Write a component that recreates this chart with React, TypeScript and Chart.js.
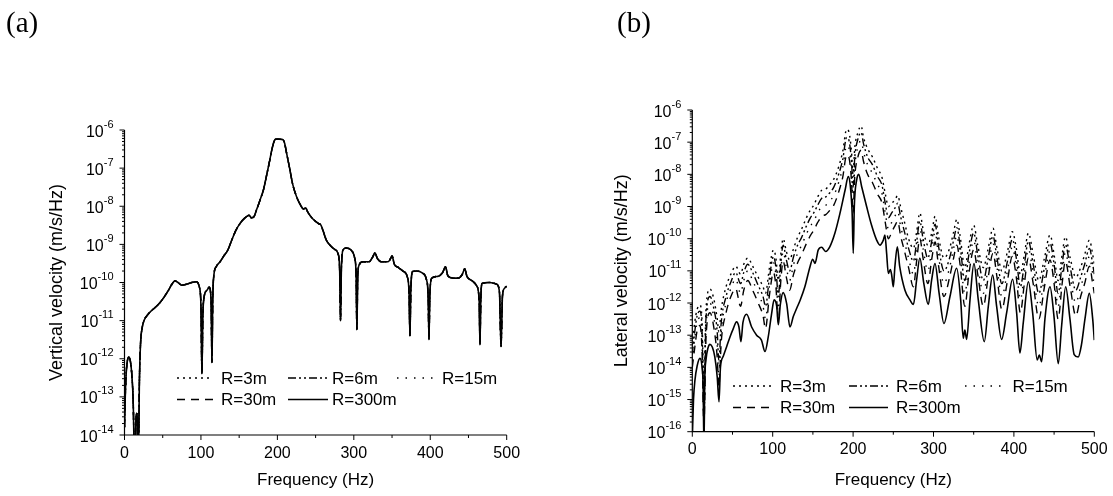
import React, { useEffect, useRef } from 'react';
import { Chart, registerables } from 'chart.js';

Chart.register(...registerables);

// ---------- shared series definitions ----------
const seriesLabels = ['R=3m', 'R=6m', 'R=15m', 'R=30m', 'R=300m'];
const seriesDashes: number[][] = [[2, 4], [8, 3, 2, 3, 2, 3], [1.5, 7], [8, 6], []];

const xMajorTicks = [0, 100, 200, 300, 400, 500];
const xMinorTicks = [50, 150, 250, 350, 450];
const yTicksA = [1e-6, 1e-7, 1e-8, 1e-9, 1e-10, 1e-11, 1e-12, 1e-13, 1e-14];
const yTicksB = [1e-6, 1e-7, 1e-8, 1e-9, 1e-10, 1e-11, 1e-12, 1e-13, 1e-14, 1e-15, 1e-16];

// ---------- (a) vertical velocity: all five curves coincide ----------
const freqA = [
  0, 1, 2, 3.5, 5.5, 7.5, 9.5, 11.5, 12.5, 13.5,
  15, 16, 17, 18, 19.5, 21, 23, 26, 30, 35,
  40, 46, 52, 57, 62, 66, 70, 75, 81, 88,
  94, 98, 100, 101.3, 102.5, 104, 108, 111, 113.3, 114.4,
  115.5, 117, 120, 125, 130, 135, 140, 146, 151, 155,
  160, 163, 166, 169, 173, 177, 182, 186, 190, 193,
  196, 198, 202, 207, 209.5, 212, 216, 220, 225, 230,
  234, 237, 240, 245, 250, 254, 257, 260, 264, 270,
  275, 279.5, 281.5, 282.6, 283.8, 286, 290, 296, 301, 303,
  304, 305.2, 307, 312, 320, 325, 327.5, 331, 336, 345,
  348, 350, 353, 358, 365, 370, 372.3, 373.4, 374.6, 377,
  382, 390, 395, 397.3, 398.3, 399.5, 402, 410, 416, 420,
  423, 430, 437, 442, 445, 448, 455, 461, 464, 465,
  466.2, 468, 478, 487, 490.5, 492.6, 494.5, 497, 500,
];
const verticalVel = [
  1.6e-14, 1e-13, 3.5e-13, 8e-13, 1.1e-12, 9e-13, 4e-13, 6e-14, 5e-15, 1e-15,
  2.5e-14, 3.7e-14, 2.5e-14, 1e-15, 2.5e-13, 2.5e-12, 6.3e-12, 1.05e-11, 1.4e-11, 1.8e-11,
  2.2e-11, 2.9e-11, 4.2e-11, 6e-11, 9e-11, 1.1e-10, 1e-10, 8.5e-11, 9e-11, 1e-10,
  1.05e-10, 7.5e-11, 2.5e-11, 4e-13, 1.3e-11, 4e-11, 6.3e-11, 7.5e-11, 3.2e-11, 8e-13,
  4e-11, 1.6e-10, 2.6e-10, 3.5e-10, 5e-10, 7e-10, 1.25e-9, 2.4e-9, 3.5e-9, 4.4e-9,
  5.4e-9, 5.8e-9, 5e-9, 5.2e-9, 8.3e-9, 1.4e-8, 2.8e-8, 6.6e-8, 1.6e-7, 3.2e-7,
  5.2e-7, 5.75e-7, 5.75e-7, 5.6e-7, 4.5e-7, 2.5e-7, 1e-7, 3.8e-8, 1.8e-8, 1.1e-8,
  8.5e-9, 9e-9, 6.9e-9, 5e-9, 4e-9, 3.5e-9, 3.2e-9, 2.2e-9, 1.3e-9, 9e-10,
  7.4e-10, 5.6e-10, 2e-10, 1e-11, 2.5e-10, 7.2e-10, 8e-10, 7.2e-10, 4.5e-10, 1.6e-10,
  5.8e-12, 1.6e-10, 2.9e-10, 3.5e-10, 3.5e-10, 4.8e-10, 6e-10, 4.2e-10, 3.5e-10, 3.5e-10,
  4.2e-10, 5e-10, 3e-10, 2.5e-10, 1.95e-10, 1.4e-10, 5e-11, 3.9e-12, 6.3e-11, 1.95e-10,
  2e-10, 1.75e-10, 1.2e-10, 4e-11, 3.2e-12, 5e-11, 1.3e-10, 1.45e-10, 1.8e-10, 2.6e-10,
  1.5e-10, 1.3e-10, 1.3e-10, 1.65e-10, 2.3e-10, 1.45e-10, 1.1e-10, 8e-11, 3.2e-11, 2.3e-12,
  4e-11, 9.5e-11, 1e-10, 9e-11, 5.6e-11, 2.1e-12, 4.5e-11, 7e-11, 8e-11,
];

// ---------- (b) lateral velocity ----------
const latFreqUpper = [
  0, 3, 6, 9.5, 12, 14.5, 17, 22, 27, 31,
  33, 36, 42, 48, 54, 60, 64, 69, 75, 82,
  88, 91, 96, 101, 104, 107, 110, 113, 117, 121,
  126, 131, 136, 142, 147, 151, 156, 161, 166, 170,
  176, 182, 187, 192, 195, 198, 200, 202, 206, 210,
  213, 218, 224, 230, 236, 240, 244, 248, 252, 255.5,
  259, 264, 269, 275, 279, 283, 287, 293, 298, 302,
  306, 313, 320, 325, 329, 333, 339, 344, 350, 355,
  362, 368, 374, 379, 385, 392, 398, 403, 408, 413,
  418, 424, 431, 438, 445, 450, 455, 460, 464, 470,
  477, 483, 488, 494, 498, 500,
];
const latR3 = [
  5e-14, 2.5e-13, 6.3e-13, 8.7e-13, 3.2e-13, 3.2e-15, 6.3e-13, 2.75e-12, 1.26e-12, 3.2e-13,
  1.26e-13, 6.3e-13, 3.2e-12, 7.9e-12, 1.4e-11, 7.9e-12, 1.6e-11, 2.5e-11, 1.4e-11, 6.3e-12,
  3.2e-12, 2e-12, 1.26e-11, 4.5e-11, 2.5e-11, 5e-12, 3.2e-11, 1e-10, 4e-11, 2.2e-11,
  5e-11, 1.1e-10, 2e-10, 4.5e-10, 7.9e-10, 1.1e-9, 2e-9, 3.2e-9, 3.5e-9, 4.5e-9,
  7.1e-9, 1.7e-8, 5e-8, 2.5e-7, 2e-7, 5e-8, 1e-8, 6.3e-8, 2e-7, 3.2e-7,
  1.4e-7, 6.3e-8, 3.5e-8, 1.6e-8, 7.9e-9, 2.5e-9, 1e-9, 1.26e-9, 1.6e-9, 2.2e-9,
  1e-9, 3.2e-10, 1e-10, 5e-11, 1.6e-10, 6.3e-10, 2e-10, 6.3e-11, 1.6e-10, 5e-10,
  1.26e-10, 2.5e-11, 5e-11, 1.6e-10, 4e-10, 1.26e-10, 1.26e-11, 6.3e-11, 2.6e-10, 6.3e-11,
  1.26e-11, 5e-11, 2.1e-10, 5e-11, 1e-11, 4e-11, 1.66e-10, 5e-11, 7.9e-12, 3.2e-11,
  1.5e-10, 3.2e-11, 5e-12, 2.5e-11, 1.3e-10, 3.2e-11, 5e-12, 3.2e-11, 1.15e-10, 2.5e-11,
  6.3e-12, 1.26e-11, 3.2e-11, 9e-11, 3.2e-11, 1.6e-11,
];
const latR6 = [
  2.5e-14, 1.26e-13, 4e-13, 5.6e-13, 1.6e-13, 5e-16, 3.2e-13, 1.6e-12, 6.3e-13, 1.26e-13,
  1.6e-14, 2.5e-13, 1.6e-12, 4.5e-12, 8.9e-12, 4e-12, 8.9e-12, 1.6e-11, 8.9e-12, 3.5e-12,
  1.6e-12, 7.9e-13, 6.3e-12, 2.8e-11, 1.26e-11, 1.6e-12, 1.6e-11, 6.3e-11, 2.2e-11, 1e-11,
  2.8e-11, 6.3e-11, 1.1e-10, 2.5e-10, 4.5e-10, 6.3e-10, 1.1e-9, 1.8e-9, 2e-9, 2.5e-9,
  4e-9, 1e-8, 2.8e-8, 1.4e-7, 1.1e-7, 2.5e-8, 4e-9, 3.2e-8, 1.26e-7, 2e-7,
  8.9e-8, 3.5e-8, 2e-8, 8.9e-9, 4.5e-9, 1.26e-9, 4.5e-10, 6.3e-10, 8.9e-10, 1.26e-9,
  5e-10, 1.6e-10, 5e-11, 2e-11, 7.9e-11, 3.5e-10, 1e-10, 2.5e-11, 8.9e-11, 2.8e-10,
  6.3e-11, 1e-11, 2.5e-11, 8.9e-11, 2.2e-10, 6.3e-11, 5e-12, 3.2e-11, 1.5e-10, 3.2e-11,
  5e-12, 2.5e-11, 1.2e-10, 2.5e-11, 4e-12, 2e-11, 9.5e-11, 2.5e-11, 3.2e-12, 1.6e-11,
  8.3e-11, 1.6e-11, 2e-12, 1.26e-11, 7.2e-11, 1.6e-11, 2e-12, 1.6e-11, 6.6e-11, 1.26e-11,
  2.5e-12, 6.3e-12, 1.6e-11, 5e-11, 1.6e-11, 7.9e-12,
];
const latR15 = [
  1.6e-14, 7.9e-14, 2.5e-13, 3.5e-13, 7.9e-14, 2.5e-16, 1.6e-13, 1e-12, 3.2e-13, 5e-14,
  5e-15, 1.26e-13, 1e-12, 2.8e-12, 5.6e-12, 2e-12, 5e-12, 1e-11, 5e-12, 2e-12,
  7.9e-13, 3.2e-13, 3.5e-12, 1.8e-11, 7.1e-12, 6.3e-13, 8.9e-12, 4e-11, 1.26e-11, 5e-12,
  1.6e-11, 3.5e-11, 6.3e-11, 1.4e-10, 2.5e-10, 3.5e-10, 6.3e-10, 1e-9, 1.1e-9, 1.4e-9,
  2.2e-9, 5.6e-9, 1.6e-8, 7.9e-8, 6.3e-8, 1.26e-8, 1.6e-9, 1.6e-8, 7.1e-8, 1.1e-7,
  5e-8, 2e-8, 1.1e-8, 5e-9, 2.5e-9, 6.3e-10, 2e-10, 3.2e-10, 5e-10, 7.1e-10,
  2.5e-10, 7.9e-11, 2.5e-11, 7.9e-12, 4e-11, 2e-10, 5e-11, 1e-11, 5e-11, 1.6e-10,
  3.2e-11, 4e-12, 1.26e-11, 5e-11, 1.26e-10, 3.2e-11, 2e-12, 1.6e-11, 8.7e-11, 1.6e-11,
  2e-12, 1.26e-11, 6.9e-11, 1.26e-11, 1.6e-12, 1e-11, 5.5e-11, 1.26e-11, 1.26e-12, 7.9e-12,
  4.8e-11, 7.9e-12, 7.9e-13, 6.3e-12, 4.2e-11, 7.9e-12, 7.9e-13, 7.9e-12, 3.8e-11, 6.3e-12,
  1e-12, 3.2e-12, 7.9e-12, 2.8e-11, 7.9e-12, 4e-12,
];
const latR30 = [
  1e-14, 4e-14, 1.4e-13, 2e-13, 4e-14, 1.6e-16, 7.9e-14, 5e-13, 1.6e-13, 2e-14,
  2.5e-15, 6.3e-14, 5e-13, 1.6e-12, 2.8e-12, 7.9e-13, 2.5e-12, 5e-12, 2.5e-12, 1e-12,
  4e-13, 1.6e-13, 1.8e-12, 8.9e-12, 3.2e-12, 2.5e-13, 4.5e-12, 2e-11, 6.3e-12, 2.5e-12,
  7.9e-12, 1.8e-11, 3.2e-11, 7.1e-11, 1.26e-10, 1.8e-10, 3.2e-10, 5e-10, 5.6e-10, 7.1e-10,
  1.1e-9, 2.8e-9, 7.9e-9, 4e-8, 3.2e-8, 6.3e-9, 6.3e-10, 7.9e-9, 3.5e-8, 5.6e-8,
  2.5e-8, 1e-8, 5.6e-9, 2.5e-9, 1.26e-9, 3.2e-10, 1e-10, 1.6e-10, 2.5e-10, 3.5e-10,
  1.26e-10, 4e-11, 1.26e-11, 3.2e-12, 2e-11, 1e-10, 2.5e-11, 4e-12, 2.5e-11, 7.9e-11,
  1.6e-11, 1.6e-12, 6.3e-12, 2.5e-11, 6.3e-11, 1.6e-11, 7.9e-13, 7.9e-12, 4.5e-11, 7.9e-12,
  7.9e-13, 6.3e-12, 3.5e-11, 6.3e-12, 6.3e-13, 5e-12, 2.8e-11, 6.3e-12, 5e-13, 4e-12,
  2.5e-11, 4e-12, 3.2e-13, 3.2e-12, 2.2e-11, 4e-12, 3.2e-13, 4e-12, 2e-11, 3.2e-12,
  4e-13, 1.6e-12, 4e-12, 1.4e-11, 4e-12, 2e-12,
];
const latFreq300 = [
  0, 1.5, 3.3, 6, 9.5, 12, 13.5, 14.5, 15.5, 17,
  19.5, 22, 25, 28, 31, 33.2, 35, 38.5, 42.7, 47,
  51, 55, 58, 60.5, 63, 67.6, 73.8, 80, 86, 90.4,
  94.5, 98.7, 101.8, 105, 107, 109.5, 113, 117.3, 121.5, 125.6,
  130, 134, 140, 146.4, 149.7, 152.6, 156.7, 160.9, 165.8, 171,
  177.4, 183.7, 190, 194, 196.5, 198.8, 200.2, 201.5, 204.4, 207,
  210.6, 216.8, 223, 229.3, 233.4, 237.6, 239.6, 241.7, 243.8, 246.3,
  248, 250, 252, 255, 258, 264.5, 270.7, 275, 279, 283,
  288, 293.5, 297.7, 301.8, 307, 313, 320.5, 328.8, 333.8, 337,
  339, 341.2, 345.4, 350.3, 355.7, 363.2, 368.2, 373.6, 378.5, 384.7,
  391, 398.4, 403.4, 407.5, 411.7, 418, 423.3, 429, 431.6, 434.5,
  438.6, 444.9, 449.8, 455.2, 459.4, 464.4, 469.7, 475, 480, 484,
  488.4, 493.8, 498, 500,
];
const latR300 = [
  6e-17, 1e-15, 4e-15, 1.1e-14, 1.9e-14, 1.1e-14, 2.5e-15, 3e-17, 4e-15, 1.7e-14,
  4e-14, 5.2e-14, 4.2e-14, 2.1e-14, 5e-15, 8.5e-16, 1e-14, 2.2e-14, 4.4e-14, 9e-14,
  1.6e-13, 2.6e-13, 1.8e-13, 6.3e-14, 2.5e-13, 4.5e-13, 1.8e-13, 1e-13, 7e-14, 3.1e-14,
  9e-14, 4.8e-13, 1.25e-12, 7.8e-13, 2.1e-13, 9e-13, 2.1e-12, 9.8e-13, 1.8e-13, 3.8e-13,
  7e-13, 1.2e-12, 3.2e-12, 1.35e-11, 2.3e-11, 1.7e-11, 4.5e-11, 5.4e-11, 4e-11, 5.6e-11,
  1.5e-10, 6.2e-10, 3.2e-9, 8.5e-9, 4.5e-9, 6.3e-10, 3.5e-11, 1e-9, 6.6e-9, 1e-8,
  4.2e-9, 1e-9, 2.6e-10, 9e-11, 6.3e-11, 9e-11, 1.3e-10, 3.5e-11, 8.3e-12, 1.1e-11,
  7.4e-12, 3.2e-12, 1.35e-11, 5.6e-11, 1.35e-11, 2.5e-12, 1.25e-12, 9e-13, 5.2e-12, 2.5e-11,
  4e-12, 9e-13, 5.2e-12, 1.7e-11, 2e-12, 2.3e-13, 1.6e-12, 1.2e-11, 1.25e-12, 8e-14,
  1.45e-13, 7.4e-14, 1.25e-12, 1.7e-11, 1.25e-12, 6.3e-14, 8e-13, 7.4e-12, 8e-13, 7.4e-14,
  5e-13, 5.5e-12, 5e-13, 2.8e-14, 2.5e-13, 4.6e-12, 5e-13, 1.7e-14, 2.4e-14, 1.5e-14,
  3.2e-13, 3.2e-12, 4e-13, 1.3e-14, 2e-13, 3.2e-12, 3.2e-13, 2.5e-14, 2.1e-14, 5e-14,
  3.2e-13, 2e-12, 3.2e-13, 7e-14,
];

// ---------- helpers ----------
const SANS = '"Liberation Sans", Arial, sans-serif';
const SERIF = '"Liberation Serif", "Times New Roman", serif';

function toPoints(freq: number[], vals: number[]) {
  const pts: { x: number; y: number }[] = [];
  for (let i = 0; i < freq.length && i < vals.length; i++) pts.push({ x: freq[i], y: vals[i] });
  return pts;
}

function makeDatasets(pairs: [number[], number[]][]) {
  return pairs.map(([f, v], i) => ({
    label: seriesLabels[i],
    data: toPoints(f, v),
    borderColor: '#000',
    borderWidth: i === 4 ? 1.6 : 1.4,
    borderDash: seriesDashes[i],
    pointRadius: 0,
    fill: false,
    cubicInterpolationMode: 'monotone' as const,
    order: i === 4 ? 0 : i + 1,
  }));
}

type PanelCfg = {
  id: string;
  panelLabel: string;
  panelX: number;
  yTitle: string;
  yTitleX: number;
  yTicks: number[];
  legendCols: { lx0: number; lx1: number; tx: number }[];
  legendRows: number[];
};

function axesPlugin(cfg: PanelCfg) {
  return {
    id: 'axes_' + cfg.id,
    afterDraw(chart: any) {
      const ctx: CanvasRenderingContext2D = chart.ctx;
      const { left, right, top, bottom } = chart.chartArea;
      const xs = chart.scales.x;
      const ys = chart.scales.y;
      ctx.save();
      ctx.setLineDash([]);
      ctx.strokeStyle = '#000';
      ctx.fillStyle = '#000';
      ctx.lineWidth = 1.2;
      // axis lines
      ctx.beginPath();
      ctx.moveTo(left, top);
      ctx.lineTo(left, bottom);
      ctx.lineTo(right, bottom);
      ctx.stroke();
      // x ticks
      ctx.lineWidth = 1;
      ctx.beginPath();
      xMajorTicks.forEach((v) => {
        const x = xs.getPixelForValue(v);
        ctx.moveTo(x, bottom);
        ctx.lineTo(x, bottom + 5);
      });
      xMinorTicks.forEach((v) => {
        const x = xs.getPixelForValue(v);
        ctx.moveTo(x, bottom);
        ctx.lineTo(x, bottom + 3);
      });
      // y ticks (major decades + log minors)
      cfg.yTicks.forEach((v) => {
        const y = ys.getPixelForValue(v);
        ctx.moveTo(left, y);
        ctx.lineTo(left - 5, y);
      });
      for (let k = 1; k < cfg.yTicks.length; k++) {
        const d = cfg.yTicks[k];
        for (let m = 2; m <= 9; m++) {
          const y = ys.getPixelForValue(d * m);
          ctx.moveTo(left, y);
          ctx.lineTo(left - 2.5, y);
        }
      }
      ctx.stroke();

      // x tick labels
      ctx.font = '16px ' + SANS;
      ctx.textAlign = 'center';
      ctx.textBaseline = 'alphabetic';
      xMajorTicks.forEach((v) => {
        ctx.fillText(String(v), xs.getPixelForValue(v), bottom + 22.5);
      });
      // y tick labels 10^n
      ctx.textAlign = 'left';
      cfg.yTicks.forEach((v) => {
        const y = ys.getPixelForValue(v);
        const exp = String(Math.round(Math.log10(v)));
        ctx.font = '11px ' + SANS;
        const ws = ctx.measureText(exp).width;
        ctx.font = '16px ' + SANS;
        const wb = ctx.measureText('10').width;
        const rightEdge = left - 11;
        ctx.fillText('10', rightEdge - ws - wb, y + 6.5);
        ctx.font = '11px ' + SANS;
        ctx.fillText(exp, rightEdge - ws, y - 2.5);
      });
      // axis titles
      ctx.font = '17px ' + SANS;
      ctx.textAlign = 'center';
      ctx.fillText('Frequency (Hz)', (left + right) / 2, 485);
      ctx.save();
      ctx.font = '18px ' + SANS;
      ctx.translate(cfg.yTitleX, (top + bottom) / 2);
      ctx.rotate(-Math.PI / 2);
      ctx.textBaseline = 'middle';
      ctx.fillText(cfg.yTitle, 0, 0);
      ctx.restore();

      // legend
      ctx.font = '17px ' + SANS;
      ctx.textAlign = 'left';
      ctx.textBaseline = 'alphabetic';
      const ds = chart.data.datasets;
      ds.forEach((d: any, i: number) => {
        const row = i < 3 ? 0 : 1;
        const col = i < 3 ? i : i - 3;
        const c = cfg.legendCols[col];
        const ly = cfg.legendRows[row];
        ctx.lineWidth = d.borderWidth;
        ctx.setLineDash(d.borderDash || []);
        ctx.beginPath();
        ctx.moveTo(c.lx0, ly);
        ctx.lineTo(c.lx1, ly);
        ctx.stroke();
        ctx.setLineDash([]);
        ctx.fillText(d.label, c.tx, ly + 5.8);
      });

      // panel label
      ctx.font = '29px ' + SERIF;
      ctx.fillText(cfg.panelLabel, cfg.panelX, 32);
      ctx.restore();
    },
  };
}

type PanelProps = {
  cfg: PanelCfg;
  datasets: any[];
  yMin: number;
  yMax: number;
  left: number;
  width: number;
  padding: { left: number; right: number; top: number; bottom: number };
};

function Panel({ cfg, datasets, yMin, yMax, left, width, padding }: PanelProps) {
  const ref = useRef<HTMLCanvasElement>(null);
  useEffect(() => {
    if (!ref.current) return;
    const chart = new Chart(ref.current, {
      type: 'line',
      data: { datasets },
      options: {
        responsive: false,
        animation: false,
        devicePixelRatio: 1,
        events: [],
        layout: { padding },
        plugins: { legend: { display: false }, tooltip: { enabled: false } },
        scales: {
          x: { type: 'linear', min: 0, max: 500, display: false },
          y: { type: 'logarithmic', min: yMin, max: yMax, display: false },
        },
      } as any,
      plugins: [axesPlugin(cfg)],
    });
    return () => chart.destroy();
  }, []);
  return (
    <canvas
      ref={ref}
      width={width}
      height={496}
      style={{ position: 'absolute', left, top: 0, width, height: 496 }}
    />
  );
}

const cfgA: PanelCfg = {
  id: 'a',
  panelLabel: '(a)',
  panelX: 6,
  yTitle: 'Vertical velocity (m/s/Hz)',
  yTitleX: 57,
  yTicks: yTicksA,
  legendCols: [
    { lx0: 177, lx1: 213, tx: 221 },
    { lx0: 288, lx1: 328, tx: 332 },
    { lx0: 397, lx1: 435, tx: 442 },
  ],
  legendRows: [378, 399.5],
};

const cfgB: PanelCfg = {
  id: 'b',
  panelLabel: '(b)',
  panelX: 61,
  yTitle: 'Lateral velocity (m/s/Hz)',
  yTitleX: 66.5,
  yTicks: yTicksB,
  legendCols: [
    { lx0: 177, lx1: 215.5, tx: 224 },
    { lx0: 293, lx1: 332, tx: 340 },
    { lx0: 409, lx1: 449, tx: 456.5 },
  ],
  legendRows: [386, 407.5],
};

export default function App() {
  const dsA = makeDatasets([
    [freqA, verticalVel],
    [freqA, verticalVel],
    [freqA, verticalVel],
    [freqA, verticalVel],
    [freqA, verticalVel],
  ]);
  const dsB = makeDatasets([
    [latFreqUpper, latR3],
    [latFreqUpper, latR6],
    [latFreqUpper, latR15],
    [latFreqUpper, latR30],
    [latFreq300, latR300],
  ]);
  return (
    <div style={{ position: 'absolute', left: 0, top: 0, width: 1113, height: 496, background: '#fff', overflow: 'hidden' }}>
      <Panel
        cfg={cfgA}
        datasets={dsA}
        yMin={1e-14}
        yMax={1e-6}
        left={0}
        width={556}
        padding={{ left: 124.5, right: 49.3, top: 130, bottom: 61 }}
      />
      <Panel
        cfg={cfgB}
        datasets={dsB}
        yMin={1e-16}
        yMax={1e-6}
        left={556}
        width={557}
        padding={{ left: 136.3, right: 18.7, top: 110, bottom: 64.3 }}
      />
    </div>
  );
}
